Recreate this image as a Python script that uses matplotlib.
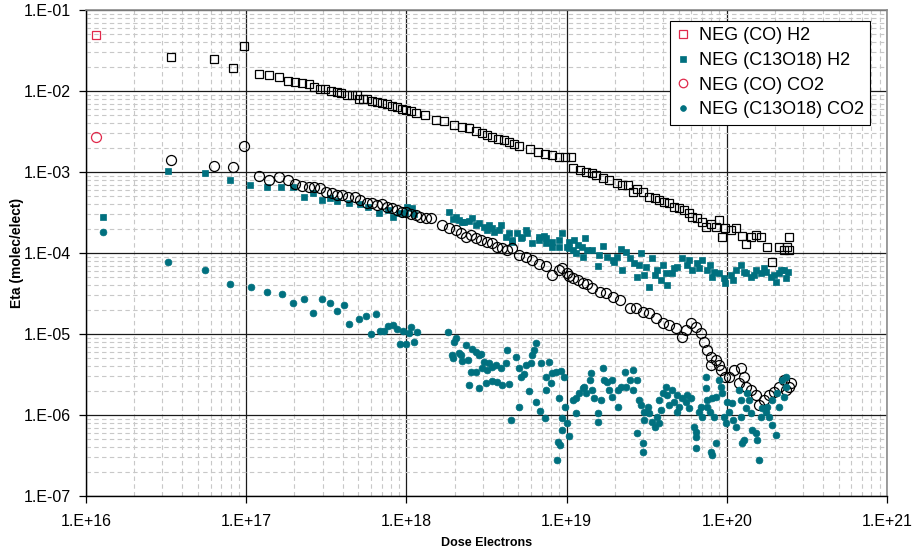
import matplotlib
matplotlib.use("Agg")
import matplotlib.pyplot as plt
from matplotlib.ticker import LogLocator, NullFormatter

plt.rcParams['font.family'] = ['Liberation Sans', 'DejaVu Sans']

# ---------------- data ----------------
h2_co = [(1.15e16, 4.9e-2), (3.38e16, 2.6e-2), (6.28e16, 2.5e-2), (8.23e16, 1.9e-2), (9.66e16, 3.6e-2),
         (1.20e17, 1.6e-2), (1.39e17, 1.58e-2), (1.60e17, 1.5e-2), (1.83e17, 1.33e-2), (2.02e17, 1.29e-2),
         (2.23e17, 1.26e-2), (2.47e17, 1.22e-2), (2.65e17, 1.12e-2), (2.89e17, 1.06e-2), (3.10e17, 1.06e-2),
         (3.38e17, 1.0e-2), (3.69e17, 9.7e-3), (3.91e17, 9.4e-3), (4.26e17, 8.9e-3), (4.57e17, 8.9e-3),
         (4.92e17, 8.9e-3), (5.06e17, 8.0e-3), (5.36e17, 8.0e-3), (5.68e17, 8.0e-3), (6.10e17, 7.5e-3),
         (6.55e17, 7.3e-3), (7.04e17, 7.1e-3), (7.57e17, 6.9e-3), (8.13e17, 6.5e-3), (8.74e17, 6.35e-3),
         (9.39e17, 6.0e-3), (1.00e18, 5.8e-3), (1.07e18, 5.7e-3), (1.15e18, 5.35e-3), (1.31e18, 5.05e-3),
         (1.54e18, 4.4e-3), (1.72e18, 4.26e-3), (1.99e18, 3.8e-3), (2.23e18, 3.6e-3), (2.47e18, 3.5e-3),
         (2.73e18, 3.2e-3), (2.98e18, 3.0e-3), (3.20e18, 2.86e-3), (3.43e18, 2.7e-3), (3.74e18, 2.55e-3),
         (4.08e18, 2.48e-3), (4.38e18, 2.35e-3), (4.71e18, 2.22e-3), (5.06e18, 2.1e-3), (5.92e18, 1.9e-3),
         (6.64e18, 1.77e-3), (7.35e18, 1.67e-3), (8.13e18, 1.62e-3), (8.98e18, 1.53e-3), (9.80e18, 1.53e-3),
         (1.07e19, 1.53e-3), (1.09e19, 1.12e-3), (1.21e19, 1.06e-3), (1.33e19, 1.0e-3), (1.45e19, 9.7e-4),
         (1.52e19, 9.2e-4), (1.68e19, 8.4e-4), (1.85e19, 8.0e-4), (2.05e19, 7.3e-4), (2.23e19, 6.9e-4),
         (2.40e19, 6.9e-4), (2.58e19, 5.7e-4), (2.77e19, 6.2e-4), (2.98e19, 5.7e-4), (3.29e19, 4.9e-4),
         (3.54e19, 4.8e-4), (3.80e19, 4.5e-4), (4.08e19, 4.3e-4), (4.38e19, 4.1e-4), (4.71e19, 3.7e-4),
         (5.06e19, 3.6e-4), (5.44e19, 3.4e-4), (5.85e19, 3.1e-4), (6.10e19, 2.8e-4), (6.55e19, 2.7e-4),
         (7.04e19, 2.4e-4), (7.46e19, 2.1e-4), (8.01e19, 2.3e-4), (8.61e19, 2.1e-4), (8.98e19, 2.55e-4),
         (9.39e19, 1.58e-4), (9.80e19, 2.05e-4), (1.06e20, 1.9e-4), (1.14e20, 2.05e-4), (1.24e20, 1.6e-4),
         (1.31e20, 1.3e-4), (1.41e20, 1.58e-4), (1.52e20, 1.67e-4), (1.63e20, 1.58e-4), (1.77e20, 1.19e-4),
         (1.91e20, 7.7e-5), (2.11e20, 1.19e-4), (2.26e20, 1.09e-4), (2.43e20, 1.58e-4), (2.43e20, 1.09e-4),
         (2.36e20, 1.19e-4)]

h2_c13 = [(1.28e16, 2.8e-4), (3.24e16, 1.03e-3), (5.52e16, 9.7e-4), (7.9e16, 8.0e-4), (1.06e17, 6.9e-4),
          (1.35e17, 6.5e-4), (1.65e17, 6.5e-4), (1.96e17, 6.5e-4), (2.30e17, 4.9e-4), (2.62e17, 5.5e-4),
          (2.98e17, 4.5e-4), (3.34e17, 4.8e-4), (3.69e17, 4.4e-4), (4.38e17, 4.1e-4), (5.13e17, 4.0e-4),
          (5.76e17, 3.7e-4), (6.74e17, 3.1e-4), (7.67e17, 3.4e-4), (8.24e17, 2.8e-4), (8.98e17, 3.1e-4),
          (9.8e17, 3.1e-4), (1.01e18, 3.7e-4), (1.09e18, 3.6e-4), (1.12e18, 3.0e-4), (1.85e18, 3.2e-4),
          (1.94e18, 2.6e-4), (2.05e18, 2.8e-4), (2.14e18, 2.55e-4), (2.23e18, 2.41e-4), (2.30e18, 2.4e-4),
          (2.47e18, 2.5e-4), (2.58e18, 2.7e-4), (2.73e18, 2.2e-4), (2.85e18, 2.35e-4), (3.06e18, 2.1e-4),
          (3.2e18, 1.92e-4), (3.29e18, 2.22e-4), (3.43e18, 2.05e-4), (3.54e18, 1.82e-4), (3.80e18, 1.9e-4),
          (3.91e18, 2.22e-4), (4.20e18, 1.58e-4), (4.38e18, 1.77e-4), (4.57e18, 1.45e-4), (4.58e18, 1.37e-4),
          (4.92e18, 1.77e-4), (5.2e18, 1.53e-4), (5.28e18, 1.58e-4), (5.6e18, 1.9e-4), (5.68e18, 1.77e-4),
          (6.1e18, 1.33e-4), (6.74e18, 1.45e-4), (6.74e18, 1.58e-4), (7.24e18, 1.62e-4), (7.46e18, 1.33e-4),
          (7.46e18, 1.53e-4), (8.13e18, 1.37e-4), (8.13e18, 1.19e-4), (8.98e18, 1.19e-4), (8.98e18, 1.45e-4),
          (9.39e18, 1.77e-4), (1.0e19, 1.19e-4), (1.04e19, 1.15e-4), (1.04e19, 1.37e-4), (1.09e19, 1.09e-4),
          (1.12e19, 1.45e-4), (1.15e19, 1.0e-4), (1.17e19, 1.25e-4), (1.24e19, 1.19e-4), (1.30e19, 1.53e-4),
          (1.26e19, 8.9e-5), (1.35e19, 1.09e-4), (1.45e19, 1.09e-4), (1.56e19, 6.9e-5), (1.6e19, 9.45e-5),
          (1.68e19, 1.22e-4), (1.80e19, 8.9e-5), (1.94e19, 8.2e-5), (1.99e19, 7.7e-5), (2.05e19, 8.9e-5),
          (2.20e19, 1.12e-4), (2.23e19, 6.2e-5), (2.36e19, 1.03e-4), (2.47e19, 8.7e-5), (2.65e19, 7.5e-5),
          (2.77e19, 5.05e-5), (2.85e19, 7.1e-5), (2.93e19, 1.0e-4), (3.06e19, 5.35e-5), (3.15e19, 6.7e-5),
          (3.29e19, 3.8e-5), (3.43e19, 8.7e-5), (3.54e19, 5.35e-5), (3.69e19, 6.2e-5), (3.91e19, 4.6e-5),
          (3.97e19, 7.1e-5), (4.2e19, 5.7e-5), (4.26e19, 4.0e-5), (4.57e19, 5.7e-5), (4.71e19, 6.5e-5),
          (4.92e19, 6.7e-5), (5.28e19, 8.7e-5), (5.68e19, 7.1e-5), (5.85e19, 8.2e-5), (6.1e19, 6.2e-5),
          (6.55e19, 7.5e-5), (6.74e19, 6.5e-5), (7.04e19, 8.2e-5), (7.57e19, 6.2e-5), (7.8e19, 7.1e-5),
          (8.13e19, 5.05e-5), (8.36e19, 5.8e-5), (8.98e19, 5.7e-5), (9.66e19, 4.9e-5), (9.8e19, 4.3e-5),
          (1.06e20, 5.35e-5), (1.1e20, 4.6e-5), (1.14e20, 6.2e-5), (1.22e20, 7.1e-5), (1.28e20, 5.8e-5),
          (1.31e20, 5.7e-5), (1.41e20, 5.05e-5), (1.47e20, 5.35e-5), (1.52e20, 6.2e-5), (1.63e20, 5.7e-5),
          (1.7e20, 6.5e-5), (1.75e20, 5.9e-5), (1.88e20, 5.05e-5), (1.96e20, 5.35e-5), (2.02e20, 4.4e-5),
          (2.11e20, 5.7e-5), (2.17e20, 6.2e-5), (2.26e20, 6.2e-5), (2.33e20, 4.9e-5), (2.4e20, 5.8e-5)]

co2_co = [(1.15e16, 2.7e-3), (3.38e16, 1.41e-3), (6.28e16, 1.19e-3), (8.23e16, 1.15e-3), (9.66e16, 2.1e-3),
          (1.20e17, 8.9e-4), (1.39e17, 8.0e-4), (1.60e17, 8.7e-4), (1.83e17, 8.0e-4), (2.02e17, 7.1e-4),
          (2.23e17, 6.7e-4), (2.47e17, 6.5e-4), (2.65e17, 6.5e-4), (2.89e17, 6.35e-4), (3.15e17, 5.7e-4),
          (3.43e17, 5.5e-4), (3.69e17, 5.2e-4), (3.97e17, 5.2e-4), (4.32e17, 4.9e-4), (4.78e17, 4.9e-4),
          (5.13e17, 4.5e-4), (5.68e17, 4.1e-4), (6.10e17, 4.1e-4), (6.55e17, 3.9e-4), (7.04e17, 4.0e-4),
          (7.57e17, 3.7e-4), (8.13e17, 3.6e-4), (8.74e17, 3.4e-4), (9.39e17, 3.2e-4), (1.0e18, 3.2e-4),
          (1.07e18, 3.0e-4), (1.15e18, 2.95e-4), (1.21e18, 2.8e-4), (1.33e18, 2.7e-4), (1.43e18, 2.7e-4),
          (1.68e18, 2.2e-4), (1.85e18, 2.05e-4), (2.05e18, 1.9e-4), (2.2e18, 1.77e-4), (2.36e18, 1.58e-4),
          (2.54e18, 1.67e-4), (2.73e18, 1.53e-4), (2.93e18, 1.45e-4), (3.2e18, 1.37e-4), (3.43e18, 1.33e-4),
          (3.69e18, 1.19e-4), (3.97e18, 1.15e-4), (4.26e18, 1.09e-4), (4.57e18, 1.15e-4), (5.06e18, 9.45e-5),
          (5.6e18, 8.9e-5), (6.1e18, 8.2e-5), (6.74e18, 7.3e-5), (7.46e18, 6.9e-5), (8.13e18, 5.35e-5),
          (8.98e18, 6.2e-5), (9.39e18, 6.5e-5), (1.0e19, 5.7e-5), (1.04e19, 5.2e-5), (1.09e19, 4.9e-5),
          (1.17e19, 4.6e-5), (1.26e19, 4.3e-5), (1.35e19, 4.1e-5), (1.45e19, 3.7e-5), (1.61e19, 3.3e-5),
          (1.77e19, 3.2e-5), (1.94e19, 2.86e-5), (2.14e19, 2.6e-5), (2.47e19, 2.1e-5), (2.73e19, 2.1e-5),
          (2.98e19, 1.87e-5), (3.29e19, 1.82e-5), (3.64e19, 1.58e-5), (3.97e19, 1.37e-5), (4.38e19, 1.29e-5),
          (4.85e19, 1.19e-5), (5.28e19, 9.2e-6), (5.6e19, 1.12e-5), (6.01e19, 1.37e-5), (6.46e19, 1.22e-5),
          (6.94e19, 1.03e-5), (7.25e19, 8.0e-6), (7.57e19, 6.35e-6), (8.01e19, 5.2e-6), (8.01e19, 4.1e-6),
          (8.61e19, 4.8e-6), (8.98e19, 4.1e-6), (9.25e19, 3.6e-6), (9.68e19, 2.95e-6), (1.03e20, 2.95e-6),
          (1.11e20, 3.6e-6), (1.22e20, 3.8e-6), (1.28e20, 2.95e-6), (1.19e20, 2.5e-6), (1.31e20, 2.2e-6),
          (1.41e20, 2.05e-6), (1.52e20, 1.77e-6), (1.58e20, 1.33e-6), (1.70e20, 1.53e-6), (1.83e20, 1.77e-6),
          (1.96e20, 1.9e-6), (2.11e20, 2.2e-6), (2.26e20, 2.7e-6), (2.43e20, 2.2e-6), (2.33e20, 2.05e-6),
          (2.51e20, 2.5e-6)]

co2_c13 = [(1.28e16, 1.82e-4), (3.24e16, 7.7e-5), (5.5e16, 6.2e-5), (7.9e16, 4.1e-5), (1.07e17, 3.8e-5),
           (1.35e17, 3.3e-5), (1.68e17, 3.1e-5), (1.96e17, 2.4e-5), (2.30e17, 2.7e-5), (2.62e17, 1.82e-5),
           (2.98e17, 2.7e-5), (3.34e17, 2.4e-5), (3.69e17, 1.92e-5), (4.08e17, 2.28e-5), (4.38e17, 1.33e-5),
           (5.06e17, 1.53e-5), (5.6e17, 1.67e-5), (6.0e17, 1.0e-5), (6.46e17, 1.77e-5), (6.84e17, 1.09e-5),
           (7.24e17, 1.09e-5), (7.67e17, 1.26e-5), (8.25e17, 1.29e-5), (8.74e17, 1.15e-5), (9.12e17, 7.5e-6),
           (9.5e17, 1.09e-5), (1.0e18, 7.5e-6), (1.04e18, 1.03e-5), (1.07e18, 1.22e-5), (1.12e18, 8.0e-6),
           (1.17e18, 1.06e-5), (1.83e18, 1.06e-5), (1.99e18, 8.0e-6), (2.05e18, 8.9e-6), (1.93e18, 5.5e-6),
           (1.96e18, 5.1e-6), (2.14e18, 5.8e-6), (2.2e18, 5.5e-6), (2.23e18, 4.6e-6), (2.36e18, 7.3e-6),
           (2.43e18, 4.8e-6), (2.58e18, 6.5e-6), (2.73e18, 6.0e-6), (2.85e18, 5.5e-6), (2.93e18, 5.7e-6),
           (2.54e18, 3.4e-6), (2.73e18, 3.4e-6), (2.98e18, 3.8e-6), (3.06e18, 4.5e-6), (3.2e18, 3.6e-6),
           (3.29e18, 4.4e-6), (3.43e18, 3.9e-6), (3.64e18, 4.1e-6), (3.91e18, 3.8e-6), (4.2e18, 4.4e-6),
           (4.26e18, 6.35e-6), (2.47e18, 2.35e-6), (2.85e18, 2.15e-6), (3.15e18, 2.5e-6), (3.43e18, 2.6e-6),
           (3.69e18, 2.56e-6), (3.97e18, 2.35e-6), (4.38e18, 2.4e-6), (4.85e18, 5.2e-6), (5.06e18, 3.8e-6),
           (5.2e18, 2.95e-6), (5.44e18, 3.2e-6), (5.6e18, 4.1e-6), (6.0e18, 4.4e-6), (6.1e18, 5.5e-6),
           (6.28e18, 6.35e-6), (6.46e18, 7.7e-6), (5.06e18, 1.26e-6), (4.5e18, 8.7e-7), (5.85e18, 1.98e-6),
           (6.46e18, 1.45e-6), (6.84e18, 1.12e-6), (7.35e18, 9.2e-7), (6.94e18, 4.4e-6), (7.46e18, 2.04e-6),
           (7.8e18, 4.5e-6), (8.0e18, 2.5e-6), (7.46e18, 2.95e-6), (8.13e18, 3.3e-6), (8.6e18, 3.4e-6),
           (9.25e18, 3.5e-6), (9.66e18, 2.95e-6), (9.0e18, 1.62e-6), (9.38e18, 9.2e-7), (8.86e18, 4.6e-7),
           (9.12e18, 4.3e-7), (8.7e18, 2.8e-7), (9.38e18, 6.5e-7), (1.0e19, 8.0e-7), (1.04e19, 5.5e-7),
           (9.8e18, 1.26e-6), (1.09e19, 1.53e-6), (1.15e19, 1.06e-6), (1.15e19, 1.62e-6), (1.2e19, 1.87e-6),
           (1.26e19, 2.15e-6), (1.29e19, 2.2e-6), (1.33e19, 1.87e-6), (1.43e19, 3.3e-6), (1.39e19, 2.7e-6),
           (1.45e19, 2.04e-6), (1.49e19, 1.62e-6), (1.56e19, 1.06e-6), (1.58e19, 8.2e-7), (1.65e19, 1.53e-6),
           (1.68e19, 3.8e-6), (1.72e19, 2.7e-6), (1.8e19, 2.56e-6), (1.91e19, 1.67e-6), (1.85e19, 2.04e-6),
           (1.93e19, 2.7e-6), (2.08e19, 1.26e-6), (2.08e19, 2.04e-6), (2.2e19, 2.2e-6), (2.3e19, 3.4e-6),
           (2.36e19, 2.2e-6), (2.47e19, 2.7e-6), (2.58e19, 3.6e-6), (2.58e19, 2.04e-6), (2.77e19, 2.7e-6),
           (2.77e19, 6.0e-7), (2.85e19, 1.53e-6), (2.93e19, 1.33e-6), (2.98e19, 4.5e-7), (3.02e19, 3.5e-7),
           (3.06e19, 1.09e-6), (3.06e19, 8.7e-7), (3.2e19, 1.26e-6), (3.29e19, 1.06e-6), (3.43e19, 8.2e-7),
           (3.54e19, 7.1e-7), (3.69e19, 9.45e-7), (3.8e19, 8.0e-7), (3.91e19, 1.15e-6), (3.8e19, 1.53e-6),
           (3.97e19, 1.87e-6), (4.2e19, 2.2e-6), (4.26e19, 1.77e-6), (4.38e19, 1.33e-6), (4.58e19, 2.04e-6),
           (4.71e19, 1.45e-6), (4.92e19, 1.77e-6), (4.92e19, 1.09e-6), (5.06e19, 1.26e-6), (5.28e19, 1.62e-6),
           (5.6e19, 1.45e-6), (5.68e19, 1.77e-6), (5.85e19, 1.22e-6), (6.0e19, 1.62e-6), (6.28e19, 7.1e-7),
           (6.46e19, 6.2e-7), (6.46e19, 5.35e-7), (6.46e19, 3.9e-7), (6.74e19, 1.09e-6), (6.94e19, 1.26e-6),
           (7.04e19, 9.45e-7), (7.46e19, 2.15e-6), (7.46e19, 2.95e-6), (7.57e19, 1.53e-6), (7.57e19, 1.26e-6),
           (7.8e19, 1.09e-6), (8.0e19, 3.5e-7), (8.13e19, 3.2e-7), (8.36e19, 9.45e-7), (8.6e19, 4.5e-7),
           (8.13e19, 1.62e-6), (8.6e19, 1.67e-6), (9.0e19, 2.7e-6), (9.25e19, 2.2e-6), (9.38e19, 1.87e-6),
           (9.66e19, 9.45e-7), (9.94e19, 8.0e-7), (1.0e20, 1.45e-6), (1.03e20, 1.09e-6), (1.07e20, 1.41e-6),
           (1.1e20, 8.7e-7), (1.14e20, 7.1e-7), (1.19e20, 2.04e-6), (1.22e20, 1.53e-6), (1.22e20, 9.45e-7),
           (1.24e20, 4.5e-7), (1.28e20, 4.9e-7), (1.31e20, 1.22e-6), (1.33e20, 1.87e-6), (1.37e20, 1.53e-6),
           (1.41e20, 1.06e-6), (1.43e20, 6.5e-7), (1.52e20, 6.0e-7), (1.54e20, 4.9e-7), (1.58e20, 2.8e-7),
           (1.63e20, 9.45e-7), (1.65e20, 1.22e-6), (1.75e20, 1.09e-6), (1.77e20, 1.26e-6), (1.83e20, 9.45e-7),
           (1.91e20, 7.5e-7), (1.91e20, 1.53e-6), (2.02e20, 5.7e-7), (2.05e20, 1.87e-6), (2.11e20, 1.26e-6),
           (2.2e20, 2.7e-6), (2.26e20, 1.67e-6), (2.33e20, 2.2e-6), (2.33e20, 2.95e-6)]

legend_labels = ['NEG (CO) H2', 'NEG (C13O18) H2', 'NEG (CO) CO2', 'NEG (C13O18) CO2']
x_tick_values = [1e16, 1e17, 1e18, 1e19, 1e20, 1e21]
x_tick_labels = ['1.E+16', '1.E+17', '1.E+18', '1.E+19', '1.E+20', '1.E+21']
y_tick_values = [1e-7, 1e-6, 1e-5, 1e-4, 1e-3, 1e-2, 1e-1]
y_tick_labels = ['1.E-07', '1.E-06', '1.E-05', '1.E-04', '1.E-03', '1.E-02', '1.E-01']
x_title = 'Dose Electrons'
y_title = 'Eta (molec/elect)'

# ---------------- styling ----------------
RED = '#e0284a'
TEAL = '#00707f'


def xy(pairs):
    return [p[0] for p in pairs], [p[1] for p in pairs]


fig = plt.figure(figsize=(9.14, 5.54), dpi=100)
ax = fig.add_axes([86 / 914, 58 / 554, 801 / 914, 486 / 554])
ax.set_xscale('log')
ax.set_yscale('log')
ax.set_xlim(1e16, 1e21)
ax.set_ylim(1e-7, 1e-1)

# series 1: NEG (CO) H2 (first point red, others black)
x, y = xy(h2_co)
ax.plot(x[:1], y[:1], ls='none', marker='s', ms=6.4, mfc='none', mec=RED, mew=0.9,
        label=legend_labels[0], zorder=3)
ax.plot(x[1:], y[1:], ls='none', marker='s', ms=6.4, mfc='none', mec='black', mew=0.9, zorder=3)

# series 2: NEG (C13O18) H2
x, y = xy(h2_c13)
ax.plot(x, y, ls='none', marker='s', ms=5.0, mfc=TEAL, mec=TEAL, mew=0.5,
        label=legend_labels[1], zorder=4)

# series 3: NEG (CO) CO2 (first point red, others black)
x, y = xy(co2_co)
ax.plot(x[:1], y[:1], ls='none', marker='o', ms=7.2, mfc='none', mec=RED, mew=0.9,
        label=legend_labels[2], zorder=5)
ax.plot(x[1:], y[1:], ls='none', marker='o', ms=7.2, mfc='none', mec='black', mew=0.9, zorder=5)

# series 4: NEG (C13O18) CO2
x, y = xy(co2_c13)
ax.plot(x, y, ls='none', marker='o', ms=4.9, mfc=TEAL, mec=TEAL, mew=0.5,
        label=legend_labels[3], zorder=6)

# grid
ax.xaxis.set_minor_locator(LogLocator(base=10, subs=range(2, 10), numticks=20))
ax.yaxis.set_minor_locator(LogLocator(base=10, subs=range(2, 10), numticks=20))
ax.xaxis.set_minor_formatter(NullFormatter())
ax.yaxis.set_minor_formatter(NullFormatter())
ax.grid(which='minor', color='#c8c8c8', linestyle=(0, (4, 3)), linewidth=0.8, zorder=0)
ax.grid(which='major', color='#1a1a1a', linestyle='-', linewidth=0.9, zorder=1)
ax.set_axisbelow(True)

ax.set_xticks(x_tick_values, x_tick_labels)
ax.set_yticks(y_tick_values, y_tick_labels)
ax.tick_params(which='minor', length=0)
ax.tick_params(which='major', direction='out', length=5, width=0.9, color='black',
               labelsize=11.5, pad=6)
ax.tick_params(axis='x', pad=8)

for side in ('left', 'bottom'):
    ax.spines[side].set_color('black')
    ax.spines[side].set_linewidth(1.0)
for side in ('top', 'right'):
    ax.spines[side].set_color('#8c8c8c')
    ax.spines[side].set_linewidth(1.2)

ax.set_xlabel(x_title, fontsize=9, fontweight='bold', labelpad=6)
ax.set_ylabel(y_title, fontsize=10, fontweight='bold')
ax.yaxis.set_label_coords(-0.077, 0.5)

leg = ax.legend(loc='upper right', bbox_to_anchor=(0.979, 0.977), borderaxespad=0,
                fontsize=13, frameon=True, fancybox=False, edgecolor='black',
                framealpha=1, handlelength=0.7, handletextpad=0.55, labelspacing=0.42,
                borderpad=0.35, markerscale=0.85)
leg.get_frame().set_linewidth(0.8)

fig.savefig('out.png', dpi=100)
